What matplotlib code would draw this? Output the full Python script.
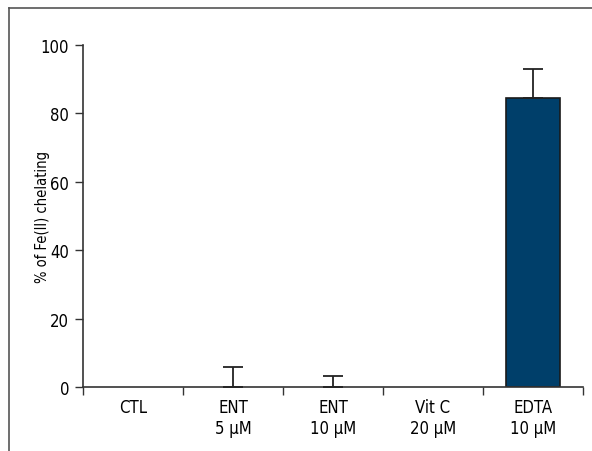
import matplotlib
matplotlib.use('Agg')
import matplotlib.pyplot as plt
from matplotlib.lines import Line2D

plt.rcParams['font.family'] = ['DejaVu Sans']
plt.rcParams['font.stretch'] = 'condensed'

# 数据
groups = ['CTL', 'ENT\n5 μM', 'ENT\n10 μM', 'Vit C\n20 μM', 'EDTA\n10 μM']
chelating = [0, 0, 0, 0, 84.5]
sem = [0, 5.8, 3.2, 0, 8.5]

fig = plt.figure(figsize=(5.92, 4.52), dpi=100)
ax = fig.add_axes([83 / 592, 1 - 388 / 452, 500 / 592, 342 / 452])

x = list(range(len(groups)))
edge_w = [1.2 if v > 0 else 0 for v in chelating]
ax.bar(x, chelating, width=0.54, color='#003f6a', edgecolor='#1a1a1a', linewidth=edge_w, zorder=2)

# 只画向上的误差线，误差为0的组不画
idx = [i for i in x if sem[i] > 0]
ax.errorbar([x[i] for i in idx], [chelating[i] for i in idx],
            yerr=[[0] * len(idx), [sem[i] for i in idx]], fmt='none', ecolor='#222222',
            elinewidth=1.3, capsize=7, capthick=1.3, zorder=3)

ax.set_xlim(-0.5, len(groups) - 0.5)
ax.set_ylim(0, 100)
ax.set_yticks([0, 20, 40, 60, 80, 100])
ax.set_xticks(x)
ax.set_xticklabels(groups, fontsize=12, linespacing=1.2)
ax.set_xticks([i - 0.5 for i in range(len(groups) + 1)], minor=True)
ax.tick_params(axis='x', which='major', length=0, pad=8)
ax.tick_params(axis='x', which='minor', length=6, width=1, color='#333333')
ax.tick_params(axis='y', length=6, width=1, color='#333333', labelsize=12, pad=4)

ax.spines['top'].set_visible(False)
ax.spines['right'].set_visible(False)
for s in ['left', 'bottom']:
    ax.spines[s].set_color('#333333')
    ax.spines[s].set_linewidth(1.2)

ax.set_ylabel('% of Fe(II) chelating', fontsize=10.5)
ax.yaxis.set_label_coords(-0.066, 0.5)

# 外框（左边和上边）
fig.add_artist(Line2D([9 / 592, 9 / 592], [0, 1 - 9 / 452], color='#555555', linewidth=1.2))
fig.add_artist(Line2D([9 / 592, 1], [1 - 9 / 452, 1 - 9 / 452], color='#555555', linewidth=1.2))

fig.savefig('out.png', dpi=100)
